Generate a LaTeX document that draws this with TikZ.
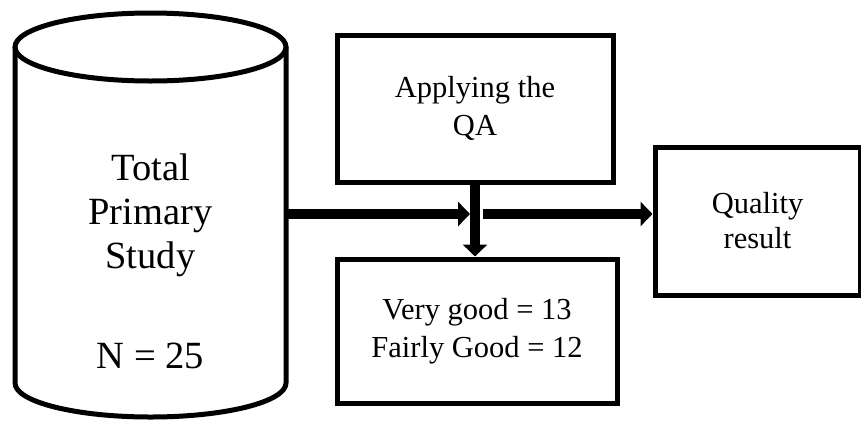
\documentclass[tikz,border=0pt]{standalone}
\usepackage{fontspec}
\setmainfont{Liberation Serif}
\usetikzlibrary{arrows.meta}
\begin{document}
\begin{tikzpicture}[x=1pt,y=-1pt,
  outline/.style={line width=5pt,draw=black},
  box/.style={outline,rectangle,inner sep=0pt,align=center},
  bigtext/.style={font=\fontsize{38.5}{44}\selectfont,align=center},
  boxtext/.style={font=\fontsize{30.5}{38.5}\selectfont},
  flow/.style={line width=10pt,-{Triangle[length=12pt,width=24pt]}}]
\useasboundingbox (0,0) rectangle (861,426);
\fill[white] (0,0) rectangle (861,426);

% database cylinder
\node[minimum width=271pt,minimum height=406pt,inner sep=0pt] (db) at (150.5,215) {};
\draw[outline] (150.5,47) ellipse [x radius=135.5, y radius=34];
\draw[outline,line join=round] (15,47) -- (15,383) arc [start angle=180,end angle=0,x radius=135.5,y radius=34] -- (286,47);
\node[bigtext,anchor=base] (dbtxt) at (150.5,268) {Total\\Primary\\Study};
\node[bigtext,anchor=base] (dbn) at (150.5,368) {N = 25};

% process boxes
\node[box,boxtext,minimum width=276pt,minimum height=147pt] (qa) at (475,108.5) {Applying the\\QA};
\node[box,boxtext,minimum width=280pt,minimum height=144pt] (vg) at (477,331) {Very good = 13\\Fairly Good = 12};
\node[box,boxtext,minimum width=205pt,minimum height=148pt,font=\fontsize{30.5}{35}\selectfont] (qr) at (757.5,221) {Quality\\result};

% connectors
\coordinate (join) at (470,214);
\coordinate (split) at (483,214);
\draw[flow] (db.east |- join) -- (join);
\draw[flow] (qa.south) -- (qa.south |- vg.north);
\draw[flow] (split) -- (qr.west |- split);
\end{tikzpicture}
\end{document}
